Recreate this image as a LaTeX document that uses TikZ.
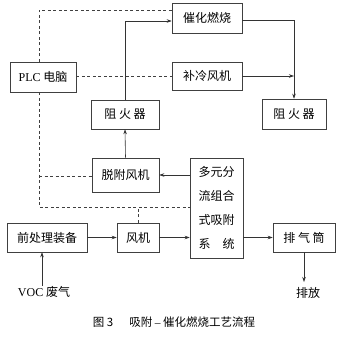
\documentclass[tikz,border=0pt]{standalone}
\usepackage{fontspec}
\setmainfont{Liberation Serif}
\newfontfamily\cjk{Noto Sans CJK SC}
\usetikzlibrary{arrows.meta}
\begin{document}
\begin{tikzpicture}[x=1pt,y=-1pt,
  box/.style={draw=black!75,line width=0.6pt,inner sep=0pt,font=\fontsize{12}{14}\selectfont\cjk},
  flow/.style={draw=black!80,line width=0.6pt,-{Stealth[length=5pt,width=3.5pt]}},
  ctl/.style={draw=black!75,line width=0.6pt,dashed,dash pattern=on 3pt off 2.5pt},
  lbl/.style={inner sep=0pt,font=\fontsize{12}{14}\selectfont\cjk}]
\useasboundingbox (0,0) rectangle (347,338);
\node[box,minimum width=70,minimum height=30] (cat) at (207,18) {催化燃烧};
\node[box,minimum width=66,minimum height=30] (plc) at (43,77) {{\rmfamily PLC} 电脑};
\node[box,minimum width=70,minimum height=28] (cool) at (207,76) {补冷风机};
\node[box,minimum width=68,minimum height=29] (fa1) at (125,114.5) {阻\ 火\ 器};
\node[box,minimum width=64,minimum height=30] (fa2) at (294,114) {阻\ 火\ 器};
\node[box,minimum width=67,minimum height=34] (desf) at (125.5,175) {脱附风机};
\node[box,minimum width=53,minimum height=100,align=center,font=\fontsize{12}{24}\selectfont\cjk] (ads) at (216.5,208) {多元分\\流组合\\式吸附\\系\quad 统};
\node[box,minimum width=80,minimum height=29] (pre) at (47,237.5) {前处理装备};
\node[box,minimum width=42,minimum height=29] (fan) at (138,237.5) {风机};
\node[box,minimum width=62,minimum height=29] (stack) at (304,237.5) {排\ 气\ 筒};
\node[lbl] (voc) at (44,292) {{\rmfamily VOC} 废气};
\node[lbl] (out) at (308,293) {排放};
\node[inner sep=0pt,font=\fontsize{11.5}{13}\selectfont\cjk] (cap) at (174,322) {图 3\hspace{16pt}吸附 {\rmfamily –} 催化燃烧工艺流程};
% coordinates
\coordinate (j1) at (294,76);
\coordinate (d1) at (39,176);
\coordinate (d2) at (39,207);
% flows
\draw[flow] (fa1.north) |- (cat.west |- 0,21);
\draw[flow] (cat.east |- 0,20) -| (fa2.north);
\draw[flow] (cool.east) -- (j1);
\draw[flow] (desf.north) -- (fa1.south);
\draw[flow] (ads.west |- desf.east) -- (desf.east);
\draw[flow] (pre.east) -- (fan.west);
\draw[flow] (fan.east) -- (ads.west |- fan.east);
\draw[flow] (ads.east |- stack.west) -- (stack.west);
\draw[flow] (voc.north -| pre.south) ++(-5,0) coordinate (v0) -- (v0 |- pre.south);
\draw[flow] (stack.south) -- (stack.south |- 0,282) coordinate (o0);
% control lines
\draw[ctl] (plc.north -| 39,0) |- (cat.west |- 0,10);
\draw[ctl] (plc.east |- 0,76.5) -- (cool.west |- 0,76.5);
\draw[ctl] (plc.south -| 39,0) -- (d2) -- (ads.west |- d2);
\draw[ctl] (d1) -- (desf.west |- d1);
\draw[ctl] (fan.north) -- (fan.north |- d2);
\end{tikzpicture}
\end{document}
